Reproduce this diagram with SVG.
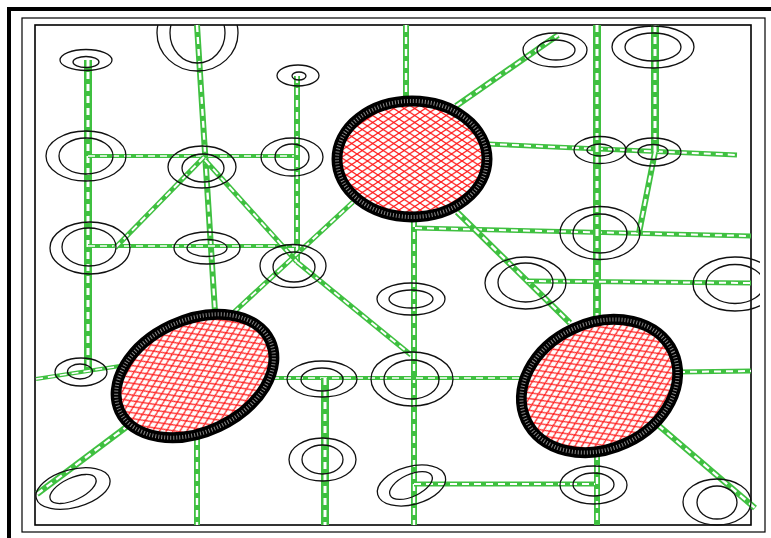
<svg xmlns="http://www.w3.org/2000/svg" width="771" height="538" viewBox="0 0 771 538">
<defs>
<pattern id="hatch" patternUnits="userSpaceOnUse" width="10.5" height="7">
<rect width="10.5" height="7" fill="#fff"/>
<path d="M0,0 L10.5,7 M0,7 L10.5,0" stroke="#ff1a1a" stroke-width="1.2" fill="none"/>
</pattern>
<clipPath id="clipTop"><rect x="35" y="25" width="716" height="500"/></clipPath>
<clipPath id="clipRight"><rect x="35" y="25" width="725" height="500"/></clipPath>
<style>
.frame{fill:none;stroke:#000}
.n ellipse{fill:none;stroke:#111;stroke-width:1.3}
.c line{stroke-linecap:butt}
.g8{stroke:#3fc040;stroke-width:8}
.g6{stroke:#3fc040;stroke-width:6}
.g5{stroke:#3fc040;stroke-width:5}
.g4{stroke:#3fc040;stroke-width:4}
.w8{stroke:#fff;stroke-width:3;stroke-dasharray:7 5}
.w6{stroke:#fff;stroke-width:2.4;stroke-dasharray:7 5}
.w5{stroke:#fff;stroke-width:2;stroke-dasharray:7 5}
.w4{stroke:#fff;stroke-width:1.6;stroke-dasharray:7 5}
.ring{fill:url(#hatch);stroke:#000;stroke-width:11}
.bead{fill:none;stroke:#8a8a8a;stroke-width:4;stroke-dasharray:1 2}
</style>
</defs>
<rect width="771" height="538" fill="#fff"/>
<g id="frames">
<rect class="frame" x="9" y="9" width="780" height="545" stroke-width="4"/>
<rect class="frame" x="22" y="18" width="743" height="514" stroke-width="1.2"/>
<rect class="frame" x="35" y="25" width="716" height="500" stroke-width="1.6"/>
</g>
<g id="connectors" class="c">
<line class="g8" x1="88" y1="60" x2="88" y2="370"/><line class="w8" x1="88" y1="60" x2="88" y2="370"/>
<line class="g6" x1="197" y1="25" x2="215" y2="312"/><line class="w6" x1="197" y1="25" x2="215" y2="312"/>
<line class="g4" x1="88" y1="156" x2="300" y2="156"/><line class="w4" x1="88" y1="156" x2="300" y2="156"/>
<line class="g6" x1="297" y1="76" x2="297" y2="262"/><line class="w6" x1="297" y1="76" x2="297" y2="262"/>
<line class="g4" x1="88" y1="246" x2="296" y2="246"/><line class="w4" x1="88" y1="246" x2="296" y2="246"/>
<line class="g5" x1="204" y1="157" x2="115" y2="248"/><line class="w5" x1="204" y1="157" x2="115" y2="248"/>
<line class="g5" x1="205" y1="160" x2="297" y2="262"/><line class="w5" x1="205" y1="160" x2="297" y2="262"/>
<line class="g5" x1="297" y1="262" x2="411" y2="355"/><line class="w5" x1="297" y1="262" x2="411" y2="355"/>
<line class="g5" x1="353" y1="202" x2="233" y2="313"/><line class="w5" x1="353" y1="202" x2="233" y2="313"/>
<line class="g6" x1="406" y1="25" x2="406" y2="100"/><line class="w6" x1="406" y1="25" x2="406" y2="100"/>
<line class="g6" x1="414" y1="220" x2="414" y2="525"/><line class="w6" x1="414" y1="220" x2="414" y2="525"/>
<line class="g5" x1="415" y1="228" x2="751" y2="236"/><line class="w5" x1="415" y1="228" x2="751" y2="236"/>
<line class="g6" x1="457" y1="212" x2="570" y2="323"/><line class="w6" x1="457" y1="212" x2="570" y2="323"/>
<line class="g6" x1="456" y1="106" x2="558" y2="35"/><line class="w6" x1="456" y1="106" x2="558" y2="35"/>
<line class="g5" x1="488" y1="144" x2="737" y2="155"/><line class="w5" x1="488" y1="144" x2="737" y2="155"/>
<line class="g8" x1="597" y1="25" x2="597" y2="318"/><line class="w8" x1="597" y1="25" x2="597" y2="318"/>
<line class="g8" x1="655" y1="25" x2="655" y2="152"/><line class="w8" x1="655" y1="25" x2="655" y2="152"/>
<line class="g6" x1="655" y1="152" x2="639" y2="233"/><line class="w6" x1="655" y1="152" x2="639" y2="233"/>
<line class="g5" x1="527" y1="281" x2="751" y2="283"/><line class="w5" x1="527" y1="281" x2="751" y2="283"/>
<line class="g5" x1="678" y1="372" x2="751" y2="371"/><line class="w5" x1="678" y1="372" x2="751" y2="371"/>
<line class="g6" x1="658" y1="425" x2="755" y2="508"/><line class="w6" x1="658" y1="425" x2="755" y2="508"/>
<line class="g6" x1="597" y1="453" x2="597" y2="525"/><line class="w6" x1="597" y1="453" x2="597" y2="525"/>
<line class="g5" x1="414" y1="484" x2="595" y2="484"/><line class="w5" x1="414" y1="484" x2="595" y2="484"/>
<line class="g4" x1="272" y1="378" x2="520" y2="378"/><line class="w4" x1="272" y1="378" x2="520" y2="378"/>
<line class="g8" x1="325" y1="378" x2="325" y2="525"/><line class="w8" x1="325" y1="378" x2="325" y2="525"/>
<line class="g6" x1="197" y1="438" x2="197" y2="525"/><line class="w6" x1="197" y1="438" x2="197" y2="525"/>
<line class="g6" x1="129" y1="425" x2="37" y2="494"/><line class="w6" x1="129" y1="425" x2="37" y2="494"/>
<line class="g4" x1="36" y1="379" x2="120" y2="366"/><line class="w4" x1="36" y1="379" x2="120" y2="366"/>
</g>
<g id="n1" class="n"><ellipse cx="86" cy="60" rx="26" ry="10.5"/><ellipse cx="86" cy="62" rx="13" ry="5.5"/></g>
<g id="n2" class="n" clip-path="url(#clipTop)"><ellipse cx="197.5" cy="33" rx="40.5" ry="38"/><ellipse cx="197.5" cy="33" rx="27.5" ry="30"/></g>
<g id="n3" class="n"><ellipse cx="298" cy="75.5" rx="21" ry="10.5"/><ellipse cx="299" cy="76" rx="7" ry="4"/></g>
<g id="n4" class="n"><ellipse cx="86" cy="156" rx="40" ry="25"/><ellipse cx="86" cy="156" rx="27" ry="18"/></g>
<g id="n5" class="n"><ellipse cx="202" cy="167" rx="34" ry="21"/><ellipse cx="203" cy="168" rx="21" ry="14"/></g>
<g id="n6" class="n"><ellipse cx="292" cy="157" rx="31" ry="19"/><ellipse cx="292" cy="157" rx="17" ry="13"/></g>
<g id="n8" class="n"><ellipse cx="555" cy="50" rx="32" ry="17"/><ellipse cx="556" cy="50" rx="19" ry="10"/></g>
<g id="n9" class="n"><ellipse cx="653" cy="47" rx="41" ry="21"/><ellipse cx="653" cy="47" rx="28" ry="14"/></g>
<g id="n10" class="n"><ellipse cx="600" cy="150" rx="26" ry="13.5"/><ellipse cx="600" cy="150" rx="13" ry="6"/></g>
<g id="n11" class="n"><ellipse cx="653" cy="152" rx="28" ry="14"/><ellipse cx="653" cy="152" rx="15" ry="7.5"/></g>
<g id="n12" class="n"><ellipse cx="90" cy="248" rx="40" ry="26"/><ellipse cx="89" cy="247" rx="27" ry="19"/></g>
<g id="n13" class="n"><ellipse cx="207" cy="248" rx="33" ry="16"/><ellipse cx="207" cy="248" rx="20" ry="8.5"/></g>
<g id="n14" class="n"><ellipse cx="293" cy="266" rx="33" ry="21.5"/><ellipse cx="294" cy="267" rx="21" ry="15"/></g>
<g id="n15" class="n"><ellipse cx="411" cy="299" rx="34" ry="16"/><ellipse cx="411" cy="299" rx="22" ry="9"/></g>
<g id="n16" class="n"><ellipse cx="525.5" cy="283" rx="40.5" ry="26"/><ellipse cx="525.5" cy="282.5" rx="27.5" ry="19.5"/></g>
<g id="n17" class="n"><ellipse cx="600" cy="233" rx="40" ry="26.5"/><ellipse cx="600" cy="233.5" rx="27" ry="19.5"/></g>
<g id="n18" class="n" clip-path="url(#clipRight)"><ellipse cx="735" cy="284" rx="42" ry="27"/><ellipse cx="735" cy="284" rx="29" ry="19.5"/></g>
<g id="n19" class="n"><ellipse cx="81" cy="372" rx="26" ry="14"/><ellipse cx="80" cy="371.5" rx="12.5" ry="7.5"/></g>
<g id="n21" class="n"><ellipse cx="322" cy="379" rx="35" ry="18"/><ellipse cx="322" cy="379.5" rx="21" ry="11.5"/></g>
<g id="n22" class="n"><ellipse cx="412" cy="379" rx="41" ry="27"/><ellipse cx="411.5" cy="379.5" rx="27.5" ry="19.5"/></g>
<g id="n24" class="n"><ellipse cx="322.5" cy="459.5" rx="33.5" ry="21.5"/><ellipse cx="322.5" cy="459.5" rx="20.5" ry="14.5"/></g>
<g id="n25" class="n"><ellipse cx="411.5" cy="485.5" rx="35" ry="19" transform="rotate(-15 411.5 485.5)"/><ellipse cx="411" cy="485.5" rx="23" ry="11" transform="rotate(-25 411 485.5)"/></g>
<g id="n26" class="n"><ellipse cx="593.5" cy="485" rx="33.5" ry="19"/><ellipse cx="593.5" cy="484.5" rx="20.5" ry="11.5"/></g>
<g id="n27" class="n"><ellipse cx="717" cy="502" rx="34" ry="23"/><ellipse cx="717" cy="502.5" rx="20" ry="16.5"/></g>
<g id="n28" class="n"><ellipse cx="73" cy="488.5" rx="38" ry="19" transform="rotate(-15 73 488.5)"/><ellipse cx="73" cy="489" rx="25" ry="11" transform="rotate(-25 73 489)"/></g>
<g id="pond-top"><ellipse class="ring" cx="412" cy="159" rx="75" ry="58"/><ellipse class="bead" cx="412" cy="159" rx="75" ry="58"/></g>
<g id="pond-left"><ellipse class="ring" cx="195" cy="376" rx="83" ry="56" transform="rotate(-25 195 376)"/><ellipse class="bead" cx="195" cy="376" rx="83" ry="56" transform="rotate(-25 195 376)"/></g>
<g id="pond-right"><ellipse class="ring" cx="599.5" cy="386" rx="81" ry="63" transform="rotate(-25 599.5 386)"/><ellipse class="bead" cx="599.5" cy="386" rx="81" ry="63" transform="rotate(-25 599.5 386)"/></g>
</svg>
